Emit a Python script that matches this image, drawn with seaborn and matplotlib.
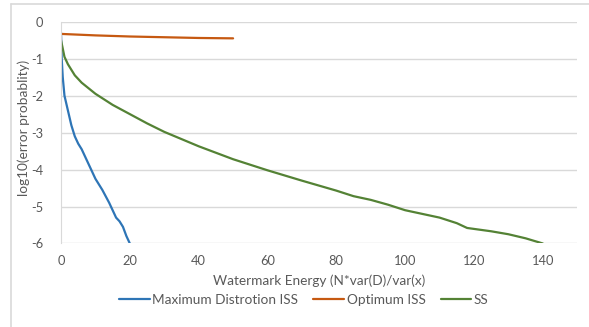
import numpy as np
import pandas as pd
import matplotlib
matplotlib.use("Agg")
import matplotlib.pyplot as plt
from matplotlib.lines import Line2D
import seaborn as sns

# values
mdiss_x = [0, 0.2, 0.5, 1, 2, 3, 4, 5, 6, 8, 10, 12, 14, 15, 16, 17, 18, 19, 20]
mdiss_y = [-0.3, -1.0, -1.5, -2.0, -2.4, -2.8, -3.1, -3.3, -3.45, -3.85, -4.25,
           -4.55, -4.9, -5.1, -5.3, -5.4, -5.55, -5.8, -6.0]

opt_x = [0, 10, 20, 30, 40, 50]
opt_y = [-0.33, -0.37, -0.40, -0.42, -0.44, -0.45]

ss_x = [0, 1, 2, 4, 6, 10, 15, 20, 25, 30, 40, 50, 60, 70, 80, 85, 90, 95,
        100, 105, 110, 115, 118, 125, 130, 135, 140]
ss_y = [-0.5, -0.95, -1.15, -1.45, -1.65, -1.95, -2.25, -2.5, -2.75, -2.98,
        -3.37, -3.72, -4.02, -4.3, -4.57, -4.72, -4.82, -4.95, -5.1, -5.2,
        -5.3, -5.45, -5.58, -5.67, -5.75, -5.86, -6.0]

series_names = ["Maximum Distrotion ISS", "Optimum ISS", "SS"]
colors = ["#2E75B6", "#C65911", "#548235"]

df = pd.concat([
    pd.DataFrame({"x": mdiss_x, "y": mdiss_y, "series": series_names[0]}),
    pd.DataFrame({"x": opt_x, "y": opt_y, "series": series_names[1]}),
    pd.DataFrame({"x": ss_x, "y": ss_y, "series": series_names[2]}),
], ignore_index=True)

sns.set_style("white")
plt.rcParams["font.family"] = ["Lato", "DejaVu Sans"]
plt.rcParams["axes.unicode_minus"] = False

fig = plt.figure(figsize=(5.89, 3.27), dpi=100)
ax = fig.add_axes([0.1036, 0.2554, 0.8764, 0.6782])

sns.lineplot(data=df, x="x", y="y", hue="series", palette=colors,
             hue_order=series_names, sort=False, estimator=None,
             linewidth=1.6, ax=ax, legend=False)

ax.set_xlim(0, 150)
ax.set_ylim(-6, 0)
ax.set_xticks(np.arange(0, 141, 20))
ax.set_yticks(np.arange(-6, 1, 1))
ax.yaxis.grid(True, color="#D9D9D9", linewidth=1)
ax.xaxis.grid(False)
ax.set_axisbelow(True)
for s in ["top", "right", "bottom"]:
    ax.spines[s].set_visible(False)
ax.spines["left"].set_color("#D9D9D9")
ax.tick_params(axis="both", length=0, labelsize=9.3, labelcolor="#595959")
ax.tick_params(axis="x", pad=8)
ax.tick_params(axis="y", pad=13)

ax.set_xlabel("Watermark Energy (N*var(D)/var(x)", fontsize=9.8, color="#595959", labelpad=6)
ax.set_ylabel("log10(error probablity)", fontsize=9.8, color="#595959")
ax.yaxis.label.set_va("center")
ax.yaxis.set_label_coords(-0.072, 0.52)

handles = [Line2D([], [], color=c, linewidth=1.6) for c in colors]
fig.legend(handles, series_names, loc="center", bbox_to_anchor=(0.516, 0.083),
           ncol=3, frameon=False, fontsize=9.8, labelcolor="#595959",
           handlelength=2.25, handletextpad=0.2, columnspacing=1.1)

# chart-area frame (left and top edges visible in the crop)
fig.add_artist(Line2D([11 / 589, 11 / 589], [0, 1 - 4 / 327], transform=fig.transFigure,
                      color="#D9D9D9", linewidth=1.2))
fig.add_artist(Line2D([11 / 589, 1], [1 - 4 / 327, 1 - 4 / 327], transform=fig.transFigure,
                      color="#D9D9D9", linewidth=1.2))

fig.savefig("out.png", dpi=100)
